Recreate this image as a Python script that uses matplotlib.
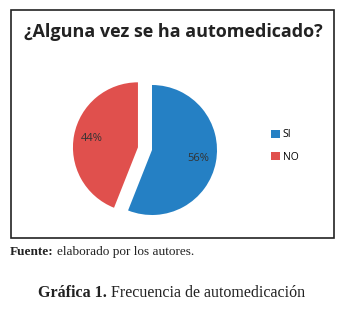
import matplotlib.pyplot as plt
from matplotlib.patches import Rectangle

labels = ['SI', 'NO']
values = [56, 44]
colors = ['#2580C4', '#E0504D']
explode = [0, 0.22]

W, H = 348, 309
fig = plt.figure(figsize=(W / 100, H / 100), dpi=100)


def fx(px):
    return px / W


def fy(py):
    return 1 - py / H


# chart frame
fig.patches.append(Rectangle((fx(10.5), fy(237.5)), fx(334) - fx(10.5), fy(9.5) - fy(237.5),
                             transform=fig.transFigure, fill=False, ec='#222222', lw=1.2))

fig.text(fx(173), fy(32), '¿Alguna vez se ha automedicado?', ha='center', va='center',
         fontsize=13, fontweight='bold', family='Open Sans', color='#222222')

# pie axes: centre at (152,150) px, radius 65 px
ax = fig.add_axes([fx(22), fy(280), fx(260), 260 / H])
wedges, texts, autotexts = ax.pie(values, colors=colors, explode=explode, startangle=90,
                                  counterclock=False, autopct='%1.0f%%', pctdistance=0.72,
                                  textprops={'fontsize': 8, 'family': 'Open Sans', 'color': '#333333'})
ax.set_xlim(-2, 2)
ax.set_ylim(-2, 2)
ax.set_aspect('equal')
ax.set_axis_off()

leg = fig.legend(wedges, labels, loc='center left', bbox_to_anchor=(fx(262), fy(146)),
                 frameon=False, handlelength=0.8, handleheight=0.8,
                 handletextpad=0.3, labelspacing=1.1, prop={'family': 'Open Sans', 'size': 7.5})

# captions below the frame, pieces placed one after another
fig.canvas.draw()
r = fig.canvas.get_renderer()


def run(parts, x0, y, size, center=False):
    items = []
    for s, bold in parts:
        t = fig.text(0, fy(y), s, ha='left', va='center', fontsize=size,
                     fontweight='bold' if bold else 'normal', family='Liberation Serif',
                     color='#222222')
        items.append(t)
    widths = [t.get_window_extent(r).width for t in items]
    gap = size * 0.35
    total = sum(widths) + gap * (len(items) - 1)
    x = x0 - total / 2 if center else x0
    for t, w in zip(items, widths):
        t.set_x(fx(x))
        x += w + gap


run([('Fuente:', True), ('elaborado por los autores.', False)], 10, 252, 9.5)
run([('Gráfica 1.', True), ('Frecuencia de automedicación', False)], 172, 293, 11.5, center=True)

plt.savefig('out.png', dpi=100)
